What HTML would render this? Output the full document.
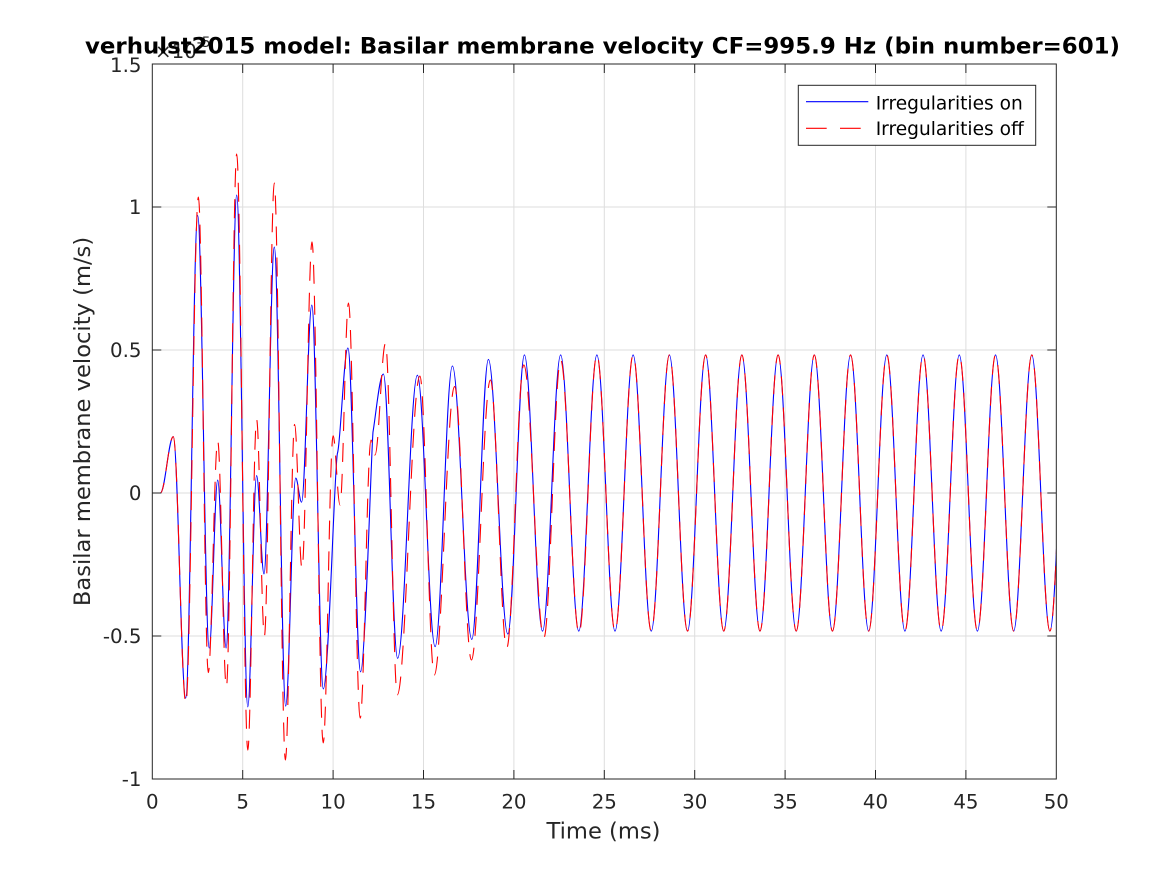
<!DOCTYPE html>
<html>
<head>
<meta charset="utf-8">
<style>
html,body{margin:0;padding:0;background:#fff;}
svg{display:block;}
text{font-family:"DejaVu Sans","Liberation Sans",sans-serif;}
</style>
</head>
<body>
<svg width="1167" height="875" viewBox="0 0 1167 875" xmlns="http://www.w3.org/2000/svg">
<rect x="0" y="0" width="1167" height="875" fill="#fff"/>
<defs>
<clipPath id="pa"><rect x="152.3" y="64" width="904" height="715"/></clipPath>
</defs>
<!-- grid -->
<g stroke="#dedede" stroke-width="1">
<line x1="242.7" y1="64" x2="242.7" y2="779"/>
<line x1="333.1" y1="64" x2="333.1" y2="779"/>
<line x1="423.5" y1="64" x2="423.5" y2="779"/>
<line x1="513.9" y1="64" x2="513.9" y2="779"/>
<line x1="604.3" y1="64" x2="604.3" y2="779"/>
<line x1="694.7" y1="64" x2="694.7" y2="779"/>
<line x1="785.1" y1="64" x2="785.1" y2="779"/>
<line x1="875.5" y1="64" x2="875.5" y2="779"/>
<line x1="965.9" y1="64" x2="965.9" y2="779"/>
<line x1="152.3" y1="207" x2="1056.3" y2="207"/>
<line x1="152.3" y1="350" x2="1056.3" y2="350"/>
<line x1="152.3" y1="493" x2="1056.3" y2="493"/>
<line x1="152.3" y1="636" x2="1056.3" y2="636"/>
</g>
<!-- series -->
<g clip-path="url(#pa)" fill="none" stroke-width="1.1">
<path stroke="#0000ff" d="M152.3,493 L160.4,493 C165.1,493 168.6,436.7 173.3,436.7 C177.8,436.7 181.2,698.1 185.7,698.1 C190.1,698.1 193.3,215.6 197.7,215.6 C201.9,215.6 205,648 209.2,648 C212.3,648 214.6,480.1 217.7,480.1 C220.8,480.1 223.1,648 226.1,648 C230,648 232.9,195 236.7,195 C240.7,195 243.8,706.9 247.8,706.9 C251,706.9 253.4,475.6 256.6,475.6 C259.3,475.6 261.3,573.9 264,573.9 C267.7,573.9 270.6,247 274.3,247 C278.4,247 281.6,706.1 285.7,706.1 C289.3,706.1 292.1,478.1 295.7,478.1 C297.8,478.1 299.5,502.2 301.6,502.2 C305.3,502.2 308.1,305.1 311.8,305.1 C316,305.1 319.1,688.9 323.3,688.9 C328.5,688.9 334.5,461.4 337.5,453 C340.5,444.6 344.1,348 347.9,348 C352.5,348 356,671.8 360.6,671.8 C365.1,671.8 371,455 373,432 C376,414 379.6,374 383.4,374 C388.6,374 392.4,658.3 397.6,658.3 C404.8,658.3 410.2,375.2 417.4,375.2 C423.8,375.2 428.7,646.6 435.1,646.6 C441.4,646.6 446.1,366 452.4,366 C459.4,366 464.8,639.4 471.8,639.4 C477.8,639.4 482.4,359.4 488.4,359.4 C495.4,359.4 500.8,634 507.8,634 C513.8,634 518.4,354.9 524.4,354.9 c6.58,0 11.54,276.2 18.12,276.2 s11.54,-276.2 18.12,-276.2 s11.54,276.2 18.12,276.2 s11.54,-276.2 18.12,-276.2 s11.54,276.2 18.12,276.2 s11.54,-276.2 18.12,-276.2 s11.54,276.2 18.12,276.2 s11.54,-276.2 18.12,-276.2 s11.54,276.2 18.12,276.2 s11.54,-276.2 18.12,-276.2 s11.54,276.2 18.12,276.2 s11.54,-276.2 18.12,-276.2 s11.54,276.2 18.12,276.2 s11.54,-276.2 18.12,-276.2 s11.54,276.2 18.12,276.2 s11.54,-276.2 18.12,-276.2 s11.54,276.2 18.12,276.2 s11.54,-276.2 18.12,-276.2 s11.54,276.2 18.12,276.2 s11.54,-276.2 18.12,-276.2 s11.54,276.2 18.12,276.2 s11.54,-276.2 18.12,-276.2 s11.54,276.2 18.12,276.2 s11.54,-276.2 18.12,-276.2 s11.54,276.2 18.12,276.2 s11.54,-276.2 18.12,-276.2 s11.54,276.2 18.12,276.2 s11.54,-276.2 18.12,-276.2 s11.54,276.2 18.12,276.2 s11.54,-276.2 18.12,-276.2"/>
<path stroke="#ff0000" stroke-dasharray="19 12" d="M152.3,493 L160.4,493 C165.1,493 168.6,436.7 173.3,436.7 C177.9,436.7 181.3,703.2 185.9,703.2 C190.4,703.2 193.9,197 198.4,197 C202,197 204.7,672.6 208.3,672.6 C211.7,672.6 214.3,441 217.7,441 C220.9,441 223.2,686.9 226.4,686.9 C230.1,686.9 233,154.1 236.7,154.1 C240.7,154.1 243.8,750.1 247.8,750.1 C251,750.1 253.4,419.5 256.6,419.5 C259.4,419.5 261.6,636 264.4,636 C268,636 270.7,183 274.3,183 C278.3,183 281.4,760.1 285.4,760.1 C288.7,760.1 291.3,424.4 294.6,424.4 C297.3,424.4 299.3,568.5 302,568.5 C305.6,568.5 308.4,241.9 312,241.9 C316.1,241.9 319.1,743 323.2,743 C326.8,743 329.5,435.8 333.1,435.8 C335.6,435.8 337.5,505 340,505 C343.1,505 345.4,303.1 348.5,303.1 C352.8,303.1 356,718.1 360.2,718.1 C364.1,718.1 367.1,440 371,440 C372.5,440 373.5,455 375,455 C378.8,455 381.7,343.4 385.5,343.4 C389.8,343.4 393,694.9 397.3,694.9 C405.5,694.9 411.7,376 419.9,376 C425.1,376 429.1,674.9 434.3,674.9 C441.7,674.9 447.2,386.6 454.6,386.6 C460.7,386.6 465.3,660 471.4,660 C478.3,660 483.5,380 490.4,380 C496.3,380 500.8,648 506.7,648 C512.9,648 517.6,364.9 523.8,364.9 C531.1,364.9 536.6,637.7 543.9,637.7 C550,637.7 554.6,360 560.7,360 C567.3,360 572.4,633.1 579,633.1 C585.5,633.1 590.4,354.9 596.9,354.9 c6.58,0 11.54,276.2 18.12,276.2 s11.54,-276.2 18.12,-276.2 s11.54,276.2 18.12,276.2 s11.54,-276.2 18.12,-276.2 s11.54,276.2 18.12,276.2 s11.54,-276.2 18.12,-276.2 s11.54,276.2 18.12,276.2 s11.54,-276.2 18.12,-276.2 s11.54,276.2 18.12,276.2 s11.54,-276.2 18.12,-276.2 s11.54,276.2 18.12,276.2 s11.54,-276.2 18.12,-276.2 s11.54,276.2 18.12,276.2 s11.54,-276.2 18.12,-276.2 s11.54,276.2 18.12,276.2 s11.54,-276.2 18.12,-276.2 s11.54,276.2 18.12,276.2 s11.54,-276.2 18.12,-276.2 s11.54,276.2 18.12,276.2 s11.54,-276.2 18.12,-276.2 s11.54,276.2 18.12,276.2 s11.54,-276.2 18.12,-276.2 s11.54,276.2 18.12,276.2 s11.54,-276.2 18.12,-276.2 s11.54,276.2 18.12,276.2 s11.54,-276.2 18.12,-276.2"/>
</g>
<!-- axes box and ticks -->
<g stroke="#262626" stroke-width="1" fill="none">
<rect x="152.3" y="64" width="904" height="715"/>
<path d="M242.7,779v-9M333.1,779v-9M423.5,779v-9M513.9,779v-9M604.3,779v-9M694.7,779v-9M785.1,779v-9M875.5,779v-9M965.9,779v-9
M242.7,64v9M333.1,64v9M423.5,64v9M513.9,64v9M604.3,64v9M694.7,64v9M785.1,64v9M875.5,64v9M965.9,64v9
M152.3,207h9M152.3,350h9M152.3,493h9M152.3,636h9
M1056.3,207h-9M1056.3,350h-9M1056.3,493h-9M1056.3,636h-9"/>
</g>
<!-- tick labels -->
<g fill="#262626" font-size="19.8" text-anchor="middle">
<text x="152.3" y="808.3">0</text>
<text x="242.7" y="808.3">5</text>
<text x="333.1" y="808.3">10</text>
<text x="423.5" y="808.3">15</text>
<text x="513.9" y="808.3">20</text>
<text x="604.3" y="808.3">25</text>
<text x="694.7" y="808.3">30</text>
<text x="785.1" y="808.3">35</text>
<text x="875.5" y="808.3">40</text>
<text x="965.9" y="808.3">45</text>
<text x="1056.3" y="808.3">50</text>
</g>
<g fill="#262626" font-size="19.8" text-anchor="end">
<text x="141.5" y="72">1.5</text>
<text x="141.5" y="214.2">1</text>
<text x="141.5" y="357.2">0.5</text>
<text x="141.5" y="500.2">0</text>
<text x="141.5" y="643.2">-0.5</text>
<text x="141.5" y="786.2">-1</text>
</g>
<!-- exponent -->
<text x="155" y="58" fill="#262626" font-size="19.8">×10<tspan font-size="14" dy="-11">-5</tspan></text>
<!-- axis labels -->
<text x="603.5" y="838.3" fill="#262626" font-size="22.6" text-anchor="middle">Time (ms)</text>
<text transform="translate(89.8,421.5) rotate(-90)" fill="#262626" font-size="22.6" text-anchor="middle">Basilar membrane velocity (m/s)</text>
<!-- title -->
<text x="85" y="53.3" fill="#000" font-size="22" font-weight="bold" textLength="1035" lengthAdjust="spacingAndGlyphs">verhulst2015 model: Basilar membrane velocity CF=995.9 Hz (bin number=601)</text>
<!-- legend -->
<rect x="798.3" y="85.3" width="237.4" height="60" fill="#fff" stroke="#262626" stroke-width="1"/>
<line x1="806" y1="101.7" x2="868.3" y2="101.7" stroke="#0000ff" stroke-width="1.1"/>
<line x1="806" y1="128.3" x2="826.7" y2="128.3" stroke="#ff0000" stroke-width="1.1"/>
<line x1="840" y1="128.3" x2="860.7" y2="128.3" stroke="#ff0000" stroke-width="1.1"/>
<text x="875.7" y="109.3" fill="#000" font-size="18.6">Irregularities on</text>
<text x="875.7" y="135" fill="#000" font-size="18.6">Irregularities off</text>
</svg>
</body>
</html>
